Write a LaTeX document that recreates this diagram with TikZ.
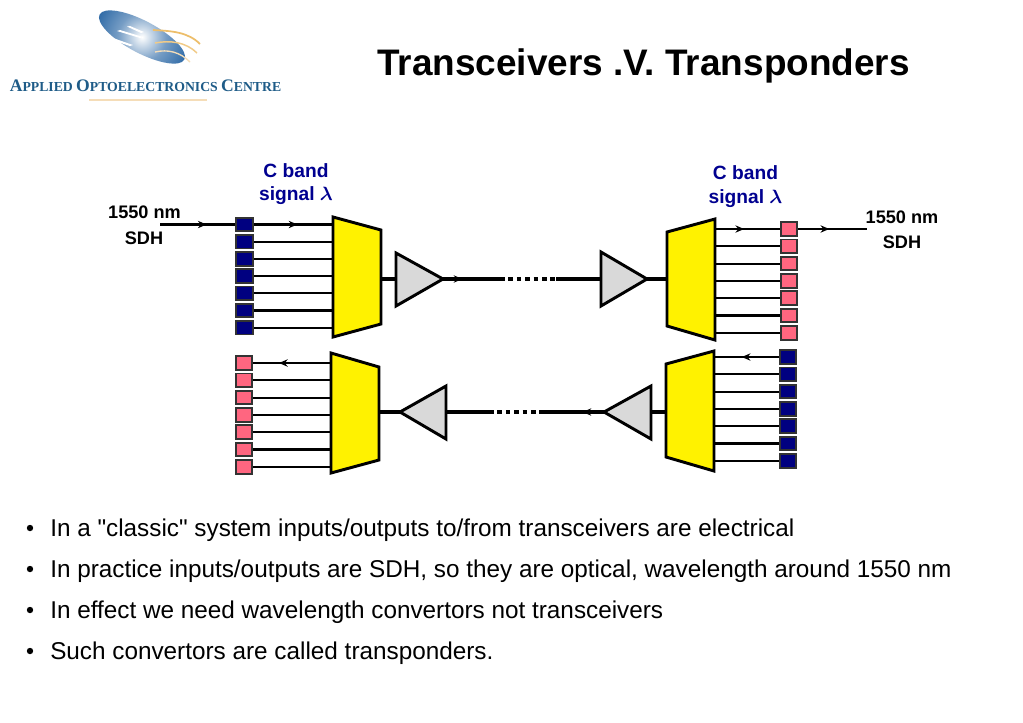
\documentclass[tikz,border=0pt]{standalone}
\usepackage{fontspec}
\setmainfont{Liberation Sans}
\newfontfamily\bulletfont{Liberation Sans}
\newfontfamily\logofont{Liberation Serif}[Scale=1]
\usetikzlibrary{arrows.meta,decorations.markings}
\definecolor{navyband}{HTML}{000090}
\definecolor{sqnavy}{HTML}{000080}
\definecolor{sqpink}{HTML}{FF6680}
\definecolor{sqedge}{HTML}{333333}
\definecolor{ampgrey}{HTML}{D9D9D9}
\definecolor{logoblue}{HTML}{1B5C9E}
\definecolor{logotext}{HTML}{1F5C88}
\definecolor{logogold}{HTML}{EDBE6A}
\definecolor{logopale}{HTML}{F5DDB8}
\pgfdeclareradialshading{logoglow}{\pgfpoint{0bp}{0bp}}{color(0bp)=(white);color(4bp)=(white!75!logoblue);color(10bp)=(logoblue!60!white);color(20bp)=(logoblue!90!white);color(30bp)=(logoblue);color(50bp)=(logoblue)}
\newcommand{\lettersAOC}[2]{{\fontsize{#1}{#1}\selectfont #2}}
\tikzset{
  x=0.75pt,y=-0.75pt,
  sig/.style={line width=1.6pt,black},
  trunk/.style={line width=3pt,black},
  dots/.style={line width=3pt,black,dash pattern=on 3.4pt off 2.9pt},
  muxbox/.style={draw=black,line width=2.2pt,fill=yellow,line join=miter},
  ampbox/.style={draw=black,line width=2.2pt,fill=ampgrey,line join=miter},
  sqn/.style={draw=sqedge,line width=1.4pt,fill=sqnavy,minimum width=12.6pt,minimum height=10.2pt,inner sep=0pt},
  sqp/.style={draw=sqedge,line width=1.4pt,fill=sqpink,minimum width=12.6pt,minimum height=10.2pt,inner sep=0pt},
  flow/.style={postaction={decorate},decoration={markings,mark=at position #1 with {\arrow{Stealth[length=6.5pt,width=5.5pt]}}}},
  lab/.style={font=\bfseries\fontsize{13.6}{14}\selectfont,inner sep=0pt,anchor=center},
  bandlab/.style={lab,font=\bfseries\fontsize{14.4}{15}\selectfont,text=navyband},
  bullet/.style={font=\bulletfont\fontsize{18.23}{20}\selectfont,anchor=base west,inner sep=0pt},
}
\begin{document}
\begin{tikzpicture}
\useasboundingbox (0,0) rectangle (1023,722);
\fill[white] (0,0) rectangle (1023,722);

% logo
\begin{scope}
  \clip[rotate around={-28:(142,37)}] (142,37) ellipse [x radius=48,y radius=16];
  \shade[shading=logoglow] (142,37) circle [radius=60];
\end{scope}
\fill[white] (127,26.5) -- (130,26) -- (144,32) -- (141,33) -- cycle;
\fill[white] (117,31) -- (120,30) -- (143,37) -- (140,38) -- cycle;
\fill[white] (110,39.5) -- (113,38) -- (133,45) -- (130,46) -- cycle;
\draw[logogold,line width=1.3pt] (153,30) .. controls (172,31) and (188,32) .. (200,44);
\draw[logogold!80!white,line width=1.1pt] (155,43) .. controls (170,40) and (186,42) .. (197,53);
\draw[logopale,line width=1pt] (155,52) .. controls (168,49) and (180,52) .. (190,62);
\node (logoname) [text=logotext,font=\logofont\bfseries,inner sep=0pt,anchor=center] at (145.5,86)
  {\lettersAOC{13.2}{A}\lettersAOC{10.3}{PPLIED} \lettersAOC{13.2}{O}\lettersAOC{10.3}{PTOELECTRONICS} \lettersAOC{13.2}{C}\lettersAOC{10.3}{ENTRE}};
\draw[logopale,line width=1.2pt] (89,100) -- (207,100);

% title
\node (title) [font=\bfseries\fontsize{27.7}{30}\selectfont,inner sep=0pt,anchor=center] at (643.5,66) {Transceivers .V. Transponders};

% labels
\node (c1) [bandlab] at (296,171) {C band};
\node (s1) [bandlab] at (296,196) {signal {\mathversion{bold}$\lambda$}};
\node (c2) [bandlab] at (745.5,173) {C band};
\node (s2) [bandlab] at (745.5,199) {signal {\mathversion{bold}$\lambda$}};
\node (n1) [lab] at (144.5,212) {1550 nm};
\node (d1) [lab] at (144,238) {SDH};
\node (n2) [lab] at (902,217) {1550 nm};
\node (d2) [lab] at (902,242) {SDH};

% key points
\coordinate (m1l) at (333,279); \coordinate (m1r) at (381,279);
\coordinate (m2l) at (667,279); \coordinate (m2r) at (715,279);
\coordinate (m3l) at (331,412); \coordinate (m3r) at (379,412);
\coordinate (m4l) at (666,412); \coordinate (m4r) at (714,412);
\coordinate (in) at (160,224.5);
\coordinate (out) at (867,229);
\coordinate (t1a) at (500,279); \coordinate (t1b) at (556,279);
\coordinate (t2a) at (489,412); \coordinate (t2b) at (541,412);

% squares
\foreach \i in {0,...,6} {
  \node[sqn] (a\i) at (244.5,{224.5+17.2*\i}) {};
  \node[sqp] (b\i) at (789,{229+17.3*\i}) {};
  \node[sqp] (c\i) at (244,{363+17.3*\i}) {};
  \node[sqn] (d\i) at (788,{357+17.3*\i}) {};
}
% connectors to multiplexers
\foreach \i in {1,...,6} {
  \draw[sig] (a\i.east) -- (a\i.east -| m1l);
  \draw[sig] (b\i.west) -- (b\i.west -| m2r);
  \draw[sig] (c\i.east) -- (c\i.east -| m3l);
  \draw[sig] (d\i.west) -- (d\i.west -| m4r);
}
\draw[sig,flow=0.62] (in) -- (a0.west);
\draw[sig,flow=0.55] (a0.east) -- (a0.east -| m1l);
\draw[sig,flow=0.45] (b0.west -| m2r) -- (b0.west);
\draw[sig,flow=0.45] (b0.east) -- (out);
\draw[sig,flow=0.67] (c0.east -| m3l) -- (c0.east);
\draw[sig,flow=0.57] (d0.west) -- (d0.west -| m4r);

% amplifiers
\coordinate (A1i) at (396,279); \coordinate (A1o) at (443,279);
\coordinate (A2i) at (601,279); \coordinate (A2o) at (647,279);
\coordinate (A3i) at (446,412); \coordinate (A3o) at (400,412);
\coordinate (A4i) at (651,412); \coordinate (A4o) at (604,412);

% trunks
\draw[trunk] (m1r) -- (A1i);
\draw[trunk,flow=0.34] (A1o) -- (t1a);
\draw[dots] (t1a) -- (t1b);
\draw[trunk] (t1b) -- (A2i);
\draw[trunk] (A2o) -- (m2l);
\draw[trunk] (m3r) -- (A3o);
\draw[trunk] (A3i) -- (t2a);
\draw[dots] (t2a) -- (t2b);
\draw[trunk,flow=0.34] (A4o) -- (t2b);
\draw[trunk] (A4i) -- (m4l);

% shapes
\draw[muxbox] (333,217) -- (381,230) -- (381,324) -- (333,337) -- cycle;
\draw[muxbox] (667,232) -- (715,219) -- (715,340) -- (667,326) -- cycle;
\draw[muxbox] (331,353) -- (379,367) -- (379,460) -- (331,473) -- cycle;
\draw[muxbox] (666,364) -- (714,351) -- (714,471) -- (666,457) -- cycle;
\draw[ampbox] (396,253) -- (396,306) -- (A1o) -- cycle;
\draw[ampbox] (601,252) -- (601,306) -- (A2o) -- cycle;
\draw[ampbox] (446,386) -- (446,439) -- (A3o) -- cycle;
\draw[ampbox] (651,386) -- (651,439) -- (A4o) -- cycle;

% bullets
\foreach \yy/\nm/\tx in {
  536/p1/{In a "classic" system inputs/outputs to/from transceivers are electrical},
  577/p2/{In practice inputs/outputs are SDH, so they are optical, wavelength around 1550 nm},
  618/p3/{In effect we need wavelength convertors not transceivers},
  659/p4/{Such convertors are called transponders.}} {
  \fill (30,\yy-8) circle [radius=3.2];
  \node[bullet] (\nm) at (50,\yy) {\tx};
}
\end{tikzpicture}
\end{document}
